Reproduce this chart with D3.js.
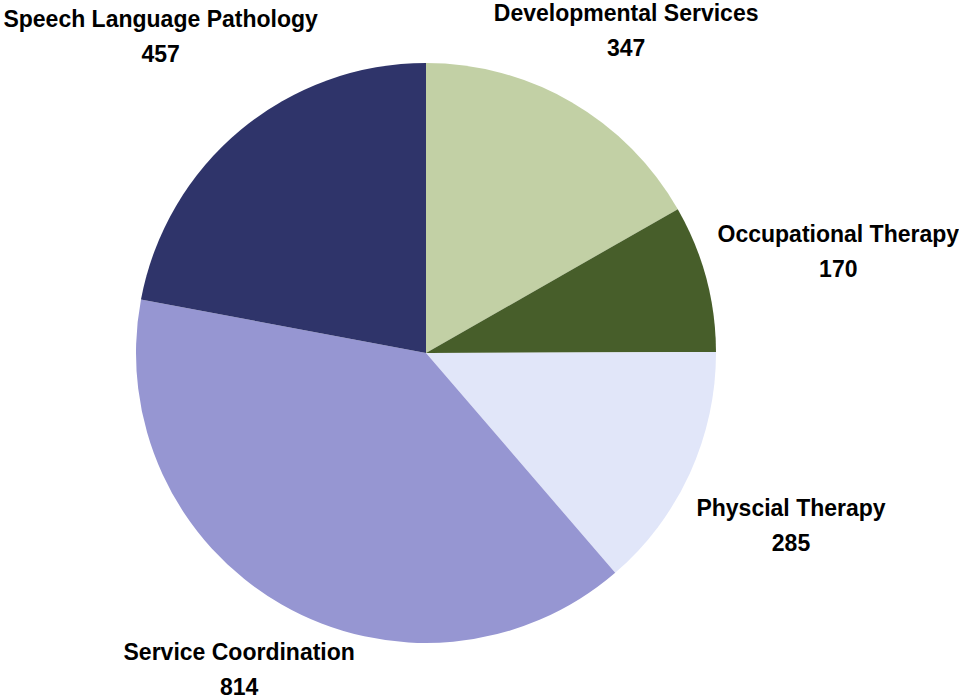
<!DOCTYPE html>
<html lang="en">
<head>
<meta charset="UTF-8">
<title>Services pie</title>
<script src="https://d3js.org/d3.v7.min.js"></script>
<style>
  body { margin: 0; background: #fff; }
  text { font-family: "Liberation Sans", Arial, sans-serif; font-weight: bold; fill: #000; }
</style>
</head>
<body>
<svg width="959" height="700"></svg>
<script>
var categories = ["Developmental Services", "Occupational Therapy", "Physcial Therapy", "Service Coordination", "Speech Language Pathology"];
var values = [347, 170, 285, 814, 457];
var colors = ["#c2d0a5", "#475e2a", "#e1e6f9", "#9696d2", "#2f346a"];

var svg = d3.select("svg"),
    cx = 426, cy = 353, radius = 290;

var data = categories.map(function(c, i) { return { name: c, value: values[i], color: colors[i] }; });

var pie = d3.pie().sort(null).value(function(d) { return d.value; });
var arc = d3.arc().innerRadius(0).outerRadius(radius);

var g = svg.append("g").attr("transform", "translate(" + cx + "," + cy + ")");

var arcs = pie(data);

g.selectAll("path")
  .data(arcs)
  .enter().append("path")
  .attr("d", arc)
  .attr("fill", function(d) { return d.data.color; });

// labels: two lines, placed outside the slice along its mid angle
var gap = 8, lineH = 35;
var labels = g.selectAll(".lbl")
  .data(arcs)
  .enter().append("text")
  .attr("class", "lbl")
  .attr("text-anchor", "middle")
  .style("font-size", "23px");

labels.append("tspan").attr("x", 0).attr("dy", 0).text(function(d) { return d.data.name; });
labels.append("tspan").attr("x", 0).attr("dy", lineH).text(function(d) { return d.data.value; });

labels.each(function(d) {
  var bb = this.getBBox();
  var w = bb.width, h = bb.height;
  var a = (d.startAngle + d.endAngle) / 2;
  var s = Math.sin(a), c = -Math.cos(a);
  var ext = (w / 2) * Math.abs(s) + (h / 2) * Math.abs(c);
  var dist = radius + gap + ext;
  var x = dist * s + 4, y = dist * c + 8;
  // keep inside the picture
  var top = y - h / 2 + cy;
  if (top < 0) y += 0 - top;
  var bot = y + h / 2 + cy;
  if (bot > 700) y -= bot - 700;
  var oy = y - h / 2 - bb.y;
  d3.select(this).attr("transform", "translate(" + x + "," + oy + ")");
});
</script>
</body>
</html>
